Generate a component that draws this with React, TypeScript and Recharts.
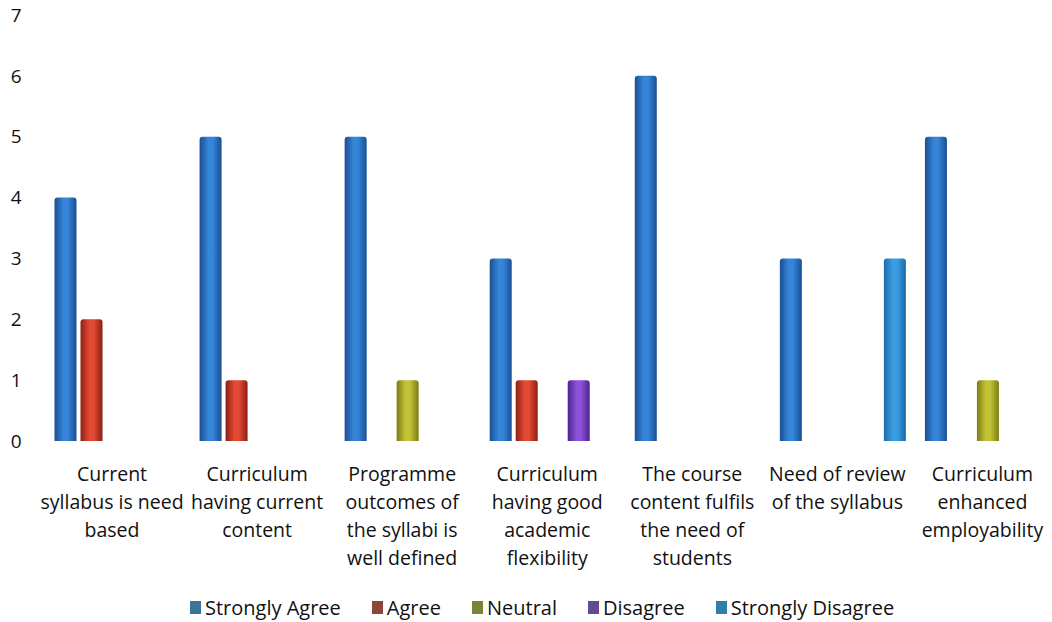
import { BarChart, Bar, XAxis, YAxis, Legend } from "recharts";

const categories = [
  "Current\nsyllabus is need\nbased",
  "Curriculum\nhaving current\ncontent",
  "Programme\noutcomes of\nthe syllabi is\nwell defined",
  "Curriculum\nhaving good\nacademic\nflexibility",
  "The course\ncontent fulfils\nthe need of\nstudents",
  "Need of review\nof the syllabus",
  "Curriculum\nenhanced\nemployability",
];

const stronglyAgree = [4, 5, 5, 3, 6, 3, 5];
const agree = [2, 1, 0, 1, 0, 0, 0];
const neutral = [0, 0, 1, 0, 0, 0, 1];
const disagree = [0, 0, 0, 1, 0, 0, 0];
const stronglyDisagree = [0, 0, 0, 0, 0, 3, 0];

const yTicks = [0, 1, 2, 3, 4, 5, 6, 7];

const SERIES = [
  { key: "sa", name: "Strongly Agree", edge: "#1a4f94", mid: "#3585d8", legend: "#3a7597" },
  { key: "ag", name: "Agree", edge: "#8c1f12", mid: "#e24a34", legend: "#8c463b" },
  { key: "ne", name: "Neutral", edge: "#7a7c12", mid: "#c4c236", legend: "#788539" },
  { key: "di", name: "Disagree", edge: "#4e2390", mid: "#8c52d8", legend: "#654a8f" },
  { key: "sd", name: "Strongly Disagree", edge: "#1a6aa8", mid: "#3a9de2", legend: "#2f7ea8" },
];

const data = categories.map((c, i) => ({
  name: c,
  sa: stronglyAgree[i],
  ag: agree[i],
  ne: neutral[i],
  di: disagree[i],
  sd: stronglyDisagree[i],
}));

const FONT = "'Open Sans', Lato, sans-serif";

function CategoryTick(props: any) {
  const { x, y, payload } = props;
  const lines = String(payload.value).split("\n");
  return (
    <text x={x - 5} y={y} textAnchor="middle" fill="#111" fontSize={19.5} fontFamily={FONT}>
      {lines.map((l, i) => (
        <tspan key={i} x={x - 5} dy={i === 0 ? 40 : 28}>
          {l}
        </tspan>
      ))}
    </text>
  );
}

function LegendContent() {
  return (
    <div
      style={{
        display: "flex",
        alignItems: "center",
        height: 30,
        paddingLeft: 190,
        fontFamily: FONT,
        fontSize: 20,
        color: "#111",
      }}
    >
      {SERIES.map((s) => (
        <div key={s.key} style={{ display: "flex", alignItems: "center", marginRight: 31 }}>
          <span style={{ display: "inline-block", width: 11, height: 13, background: s.legend, marginRight: 4 }} />
          <span>{s.name}</span>
        </div>
      ))}
    </div>
  );
}

export default function App() {
  return (
    <div style={{ position: "fixed", left: 0, top: 0, width: 1052, height: 622, overflow: "hidden", background: "#fff" }}>
      <BarChart
        width={1060}
        height={622}
        data={data}
        margin={{ top: 15, right: 0, left: 0, bottom: 0 }}
        barSize={22}
        barGap={4}
      >
        <defs>
          {SERIES.map((s) => (
            <linearGradient key={s.key} id={`g-${s.key}`} x1="0" y1="0" x2="1" y2="0">
              <stop offset="0%" stopColor={s.edge} />
              <stop offset="40%" stopColor={s.mid} />
              <stop offset="60%" stopColor={s.mid} />
              <stop offset="100%" stopColor={s.edge} />
            </linearGradient>
          ))}
        </defs>
        <XAxis
          dataKey="name"
          axisLine={false}
          tickLine={false}
          tickSize={0}
          tickMargin={0}
          height={151}
          interval={0}
          tick={<CategoryTick />}
        />
        <YAxis
          width={44.5}
          domain={[0, 7]}
          ticks={yTicks}
          axisLine={false}
          tickLine={false}
          tickSize={0}
          tickMargin={23}
          tick={{ fontSize: 19, fontFamily: FONT, fill: "#111" }}
        />
        <Legend verticalAlign="bottom" content={<LegendContent />} />
        {SERIES.map((s) => (
          <Bar
            key={s.key}
            dataKey={s.key}
            name={s.name}
            fill={`url(#g-${s.key})`}
            radius={[3, 3, 0, 0]}
            isAnimationActive={false}
          />
        ))}
      </BarChart>
    </div>
  );
}
